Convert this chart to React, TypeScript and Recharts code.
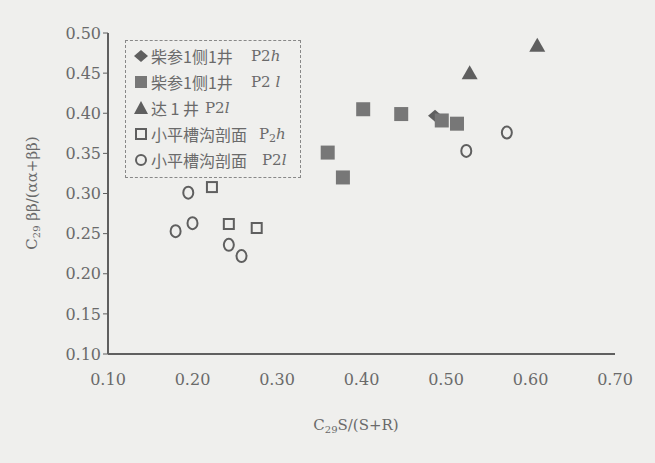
import React from 'react';
import {
  ScatterChart,
  Scatter,
  XAxis,
  YAxis,
} from 'recharts';

// 柴参1侧1井 P2h
const chaiP2h = [{ x: 0.487, y: 0.397 }];

// 柴参1侧1井 P2l
const chaiP2l = [
  { x: 0.36, y: 0.351 },
  { x: 0.378, y: 0.32 },
  { x: 0.402, y: 0.405 },
  { x: 0.447, y: 0.399 },
  { x: 0.495, y: 0.391 },
  { x: 0.513, y: 0.387 },
];

// 达 1 井 P2l
const da1P2l = [
  { x: 0.528, y: 0.45 },
  { x: 0.608, y: 0.484 },
];

// 小平槽沟剖面 P2h
const xpP2h = [
  { x: 0.223, y: 0.308 },
  { x: 0.243, y: 0.262 },
  { x: 0.276, y: 0.257 },
];

// 小平槽沟剖面 P2l
const xpP2l = [
  { x: 0.195, y: 0.301 },
  { x: 0.2, y: 0.263 },
  { x: 0.18, y: 0.253 },
  { x: 0.243, y: 0.236 },
  { x: 0.258, y: 0.222 },
  { x: 0.524, y: 0.353 },
  { x: 0.572, y: 0.376 },
];

const xTicks = [0.1, 0.2, 0.3, 0.4, 0.5, 0.6, 0.7];
const yTicks = [0.1, 0.15, 0.2, 0.25, 0.3, 0.35, 0.4, 0.45, 0.5];

const INK = '#5f5f5f';
const TEXT = '#6a6a6a';
const SERIF = '"DejaVu Serif", "Liberation Serif", serif';
const CJK = '"Noto Sans CJK SC", sans-serif';

const Diamond = ({ cx, cy }: any) => (
  <path d={`M${cx - 7},${cy} L${cx},${cy - 6} L${cx + 7},${cy} L${cx},${cy + 6} Z`} fill={INK} />
);
const FilledSquare = ({ cx, cy }: any) => (
  <rect x={cx - 7} y={cy - 7} width={14} height={14} fill="#777" />
);
const Triangle = ({ cx, cy }: any) => (
  <path d={`M${cx},${cy - 8} L${cx + 8},${cy + 6} L${cx - 8},${cy + 6} Z`} fill={INK} />
);
const OpenSquare = ({ cx, cy }: any) => (
  <rect x={cx - 5} y={cy - 5} width={10} height={10} fill="none" stroke={INK} strokeWidth={2} />
);
const OpenCircle = ({ cx, cy }: any) => (
  <ellipse cx={cx} cy={cy} rx={5} ry={6} fill="none" stroke={INK} strokeWidth={2} />
);

const legendRows = [
  { icon: 'diamond', name: '柴参1侧1井', tag: <>P2<tspan fontStyle="italic">h</tspan></>, gap: 18 },
  { icon: 'square', name: '柴参1侧1井', tag: <>P2 <tspan fontStyle="italic">l</tspan></>, gap: 18 },
  { icon: 'triangle', name: '达 1 井', tag: <>P2<tspan fontStyle="italic">l</tspan></>, gap: 6 },
  { icon: 'osquare', name: '小平槽沟剖面', tag: <>P<tspan fontSize={11} dy={3}>2</tspan><tspan dy={-3} fontStyle="italic">h</tspan></>, gap: 12 },
  { icon: 'ocircle', name: '小平槽沟剖面', tag: <>P2<tspan fontStyle="italic">l</tspan></>, gap: 15 },
];

const legendIcon = (icon: string) => {
  switch (icon) {
    case 'diamond':
      return <Diamond cx={7} cy={7} />;
    case 'square':
      return <rect x={1} y={1} width={12} height={12} fill="#777" />;
    case 'triangle':
      return <path d="M7,0 L14,13 L0,13 Z" fill={INK} />;
    case 'osquare':
      return <rect x={2} y={2} width={10} height={10} fill="none" stroke={INK} strokeWidth={2} />;
    default:
      return <circle cx={7} cy={7} r={5} fill="none" stroke={INK} strokeWidth={2} />;
  }
};

const LegendBox = () => (
  <div
    style={{
      position: 'absolute',
      left: 125,
      top: 40,
      width: 158,
      border: '1px dashed #888',
      padding: '2px 8px 4px 8px',
    }}
  >
    {legendRows.map((r, i) => (
      <div key={i} style={{ display: 'flex', alignItems: 'center', height: 26 }}>
        <svg width={14} height={14} style={{ marginRight: 3, flexShrink: 0 }}>
          {legendIcon(r.icon)}
        </svg>
        <span style={{ fontFamily: CJK, fontSize: 16, color: TEXT, whiteSpace: 'nowrap' }}>{r.name}</span>
        <svg width={36} height={22} style={{ marginLeft: r.gap, flexShrink: 0 }}>
          <text x={0} y={16} fontFamily={SERIF} fontSize={15} fill={TEXT}>
            {r.tag}
          </text>
        </svg>
      </div>
    ))}
  </div>
);

const YLabel = () => (
  <text
    transform="translate(37, 193) rotate(-90)"
    textAnchor="middle"
    fontFamily={SERIF}
    fontSize={15}
    fill={TEXT}
  >
    C<tspan fontSize={10} dy={3}>29</tspan>
    <tspan dy={-3}> ββ/(αα+ββ)</tspan>
  </text>
);

const XLabel = () => (
  <text x={356} y={430} textAnchor="middle" fontFamily={SERIF} fontSize={15} fill={TEXT}>
    C<tspan fontSize={10} dy={3}>29</tspan>
    <tspan dy={-3}>S/(S+R)</tspan>
  </text>
);

const fmt = (v: number) => v.toFixed(2);

export default function App() {
  return (
    <div style={{ position: 'absolute', left: 0, top: 0, width: 655, height: 463, background: '#efefed' }}>
      <ScatterChart width={655} height={463} margin={{ top: 33, right: 40, bottom: 59, left: 48 }}>
        <XAxis
          type="number"
          dataKey="x"
          domain={[0.1, 0.7]}
          ticks={xTicks}
          tickFormatter={fmt}
          tickLine={false}
          axisLine={{ stroke: INK, strokeWidth: 2 }}
          tick={{ fill: TEXT, fontFamily: SERIF, fontSize: 16 }}
          tickMargin={14}
          height={50}
          allowDataOverflow
        />
        <XAxis
          xAxisId="top"
          orientation="top"
          type="number"
          dataKey="x"
          domain={[0.1, 0.7]}
          tick={false}
          tickLine={false}
          height={0}
          axisLine={{ stroke: INK, strokeWidth: 2 }}
        />
        <YAxis
          type="number"
          dataKey="y"
          domain={[0.1, 0.5]}
          ticks={yTicks}
          tickFormatter={fmt}
          tickLine={{ stroke: INK }}
          tickSize={5}
          axisLine={{ stroke: INK, strokeWidth: 2 }}
          tick={{ fill: TEXT, fontFamily: SERIF, fontSize: 16 }}
          width={60}
          allowDataOverflow
        />
        <YAxis
          yAxisId="right"
          orientation="right"
          type="number"
          dataKey="y"
          domain={[0.1, 0.5]}
          tick={false}
          tickLine={false}
          width={0}
          axisLine={{ stroke: INK, strokeWidth: 2 }}
        />
        <Scatter name="柴参1侧1井 P2h" data={chaiP2h} shape={Diamond} isAnimationActive={false} />
        <Scatter name="柴参1侧1井 P2l" data={chaiP2l} shape={FilledSquare} isAnimationActive={false} />
        <Scatter name="达 1 井 P2l" data={da1P2l} shape={Triangle} isAnimationActive={false} />
        <Scatter name="小平槽沟剖面 P2h" data={xpP2h} shape={OpenSquare} isAnimationActive={false} />
        <Scatter name="小平槽沟剖面 P2l" data={xpP2l} shape={OpenCircle} isAnimationActive={false} />
        <YLabel />
        <XLabel />
      </ScatterChart>
      <LegendBox />
    </div>
  );
}
